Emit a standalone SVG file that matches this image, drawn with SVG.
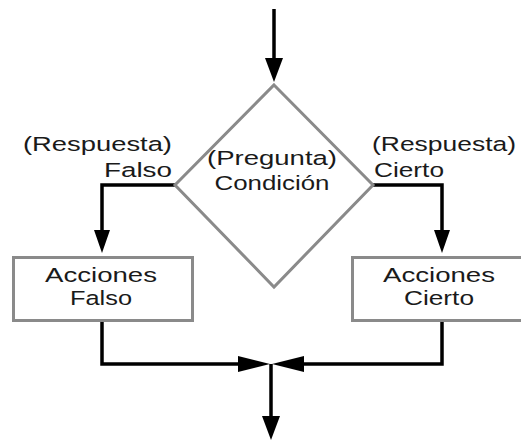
<svg xmlns="http://www.w3.org/2000/svg" width="521" height="441" viewBox="0 0 521 441">
<style>
.shape{fill:#fff;stroke:#8a8a8a;stroke-width:3}
.conn{fill:none;stroke:#000;stroke-width:3.5}
.head{fill:#000;stroke:none}
text{font-family:"Liberation Sans",Arial,sans-serif;font-size:20.5px;fill:#1a1a1a}
</style>
<rect width="521" height="441" fill="#fff"/>
<g id="connectors">
<path class="conn" d="M274,9 V62"/>
<polygon class="head" points="265,58 283,58 274,82"/>
<path class="conn" d="M175,185 H102 V236"/>
<polygon class="head" points="94,230 110,230 102,253"/>
<path class="conn" d="M373,185 H442 V236"/>
<polygon class="head" points="434,230 450,230 442,253"/>
<path class="conn" d="M102,321 V364 H250"/>
<polygon class="head" points="238,356 238,372 270,364"/>
<path class="conn" d="M442,321 V364 H292"/>
<polygon class="head" points="304,356 304,372 272,364"/>
<path class="conn" d="M271,364 V420"/>
<polygon class="head" points="262,416 280,416 271,440"/>
</g>
<g id="cond">
<polygon class="shape" points="274,85 373,185 274,287 175,185"/>
<text x="272" y="165" text-anchor="middle" textLength="130" lengthAdjust="spacingAndGlyphs">(Pregunta)</text>
<text x="272" y="190" text-anchor="middle" textLength="115" lengthAdjust="spacingAndGlyphs">Condición</text>
</g>
<g id="label-falso">
<text x="23" y="151" textLength="149" lengthAdjust="spacingAndGlyphs">(Respuesta)</text>
<text x="104" y="177" textLength="68" lengthAdjust="spacingAndGlyphs">Falso</text>
</g>
<g id="label-cierto">
<text x="372" y="151" textLength="144" lengthAdjust="spacingAndGlyphs">(Respuesta)</text>
<text x="374" y="177" textLength="70" lengthAdjust="spacingAndGlyphs">Cierto</text>
</g>
<g id="acciones-falso">
<rect class="shape" x="13.5" y="257.5" width="179" height="63"/>
<text x="101" y="282" text-anchor="middle" textLength="112" lengthAdjust="spacingAndGlyphs">Acciones</text>
<text x="101" y="305" text-anchor="middle" textLength="62" lengthAdjust="spacingAndGlyphs">Falso</text>
</g>
<g id="acciones-cierto">
<rect class="shape" x="352.5" y="257.5" width="172" height="63"/>
<text x="439" y="282" text-anchor="middle" textLength="112" lengthAdjust="spacingAndGlyphs">Acciones</text>
<text x="439" y="305" text-anchor="middle" textLength="70" lengthAdjust="spacingAndGlyphs">Cierto</text>
</g>
</svg>
